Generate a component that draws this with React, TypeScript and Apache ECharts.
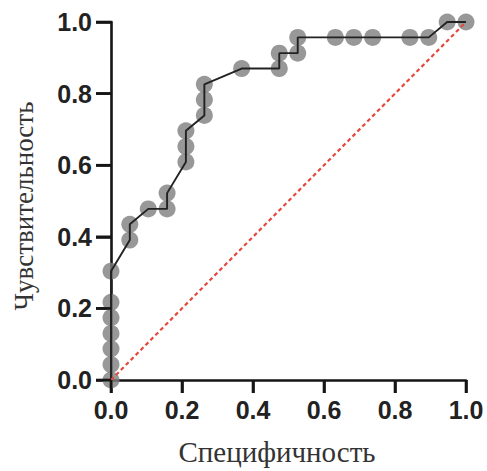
import React, { useEffect, useRef } from "react";
import * as echarts from "echarts";

// ROC curve points (1 - specificity on x as plotted, sensitivity on y)
const specificity = [
  0, 0, 0, 0, 0, 0, 0, 0.053, 0.053, 0.105, 0.158, 0.158, 0.211, 0.211, 0.211,
  0.263, 0.263, 0.263, 0.368, 0.474, 0.474, 0.526, 0.526, 0.632, 0.684, 0.737,
  0.842, 0.895, 0.947, 1.0,
];
const sensitivity = [
  0, 0.043, 0.087, 0.13, 0.174, 0.217, 0.304, 0.391, 0.435, 0.478, 0.478, 0.522,
  0.609, 0.652, 0.696, 0.739, 0.783, 0.826, 0.87, 0.87, 0.913, 0.913, 0.957,
  0.957, 0.957, 0.957, 0.957, 0.957, 1.0, 1.0,
];
const referenceX = [0, 1];
const referenceY = [0, 1];
const tickValues = [0, 0.2, 0.4, 0.6, 0.8, 1.0];
const xTitle = "Специфичность";
const yTitle = "Чувствительность";

const AXIS_COLOR = "#151515";
const X_TICK_LEN = 13;
const Y_TICK_LEN = 15;

export default function App() {
  const ref = useRef<HTMLDivElement>(null);
  useEffect(() => {
    if (!ref.current) return;
    const chart = echarts.init(ref.current, null, { renderer: "svg" });
    const pts = specificity.map((x, i) => [x, sensitivity[i]]);
    const refPts = referenceX.map((x, i) => [x, referenceY[i]]);
    const titles = [
      {
        type: "text",
        x: 277,
        y: 452,
        z: 50,
        style: {
          text: xTitle,
          fontFamily: "Liberation Serif",
          fontSize: 29,
          fill: "#333",
          align: "center",
          verticalAlign: "middle",
        },
      },
      {
        type: "text",
        x: 24,
        y: 206,
        z: 50,
        rotation: Math.PI / 2,
        style: {
          text: yTitle,
          fontFamily: "Liberation Serif",
          fontSize: 27,
          fill: "#333",
          align: "center",
          verticalAlign: "middle",
        },
      },
    ];
    chart.setOption({
      animation: false,
      grid: { left: 111, right: 21, top: 22, bottom: 91 },
      xAxis: {
        type: "value",
        min: tickValues[0],
        max: tickValues[tickValues.length - 1],
        interval: 0.2,
        splitLine: { show: false },
        axisLine: { show: true, onZero: false, lineStyle: { color: AXIS_COLOR, width: 2.6 } },
        axisTick: { show: true, length: X_TICK_LEN, lineStyle: { color: AXIS_COLOR, width: 2.6 } },
        axisLabel: {
          formatter: (v: number) => v.toFixed(1),
          fontFamily: "Liberation Sans",
          fontWeight: "bold",
          fontSize: 25,
          color: "#222",
          margin: 17,
        },
      },
      yAxis: {
        type: "value",
        min: tickValues[0],
        max: tickValues[tickValues.length - 1],
        interval: 0.2,
        splitLine: { show: false },
        axisLine: { show: true, onZero: false, lineStyle: { color: AXIS_COLOR, width: 2.6 } },
        axisTick: { show: true, length: Y_TICK_LEN, lineStyle: { color: AXIS_COLOR, width: 2.6 } },
        axisLabel: {
          formatter: (v: number) => v.toFixed(1),
          fontFamily: "Liberation Sans",
          fontWeight: "bold",
          fontSize: 25,
          color: "#222",
          margin: 19,
        },
      },
      graphic: titles,
      series: [
        {
          type: "scatter",
          data: pts,
          symbol: "circle",
          symbolSize: 17,
          itemStyle: { color: "#7e7e7e" },
        },
        {
          type: "line",
          data: pts,
          showSymbol: false,
          symbol: "none",
          lineStyle: { color: "#222", width: 1.9 },
        },
        {
          type: "line",
          data: refPts,
          symbol: "none",
          lineStyle: { color: "#e5483d", width: 2.2, type: [4, 3] },
        },
      ],
    });
    // Tick marks placed through the grid's own scales (so they always show)
    const tickMarks: any[] = [];
    try {
      tickValues.forEach((v) => {
        const pxX = chart.convertToPixel({ gridIndex: 0 }, [v, tickValues[0]]) as number[];
        const pxY = chart.convertToPixel({ gridIndex: 0 }, [tickValues[0], v]) as number[];
        if (pxX && isFinite(pxX[0])) {
          tickMarks.push({
            type: "line",
            z: 100,
            silent: true,
            shape: { x1: pxX[0], y1: pxX[1], x2: pxX[0], y2: pxX[1] + X_TICK_LEN },
            style: { stroke: AXIS_COLOR, lineWidth: 2.6 },
          });
        }
        if (pxY && isFinite(pxY[1])) {
          tickMarks.push({
            type: "line",
            z: 100,
            silent: true,
            shape: { x1: pxY[0], y1: pxY[1], x2: pxY[0] - Y_TICK_LEN, y2: pxY[1] },
            style: { stroke: AXIS_COLOR, lineWidth: 2.6 },
          });
        }
      });
    } catch (e) {
      // ignore
    }
    chart.setOption({ graphic: [...titles, ...tickMarks] });
    return () => chart.dispose();
  }, []);
  return (
    <div
      ref={ref}
      style={{ width: 487, height: 471, position: "absolute", left: 0, top: 0, background: "#fff" }}
    />
  );
}
